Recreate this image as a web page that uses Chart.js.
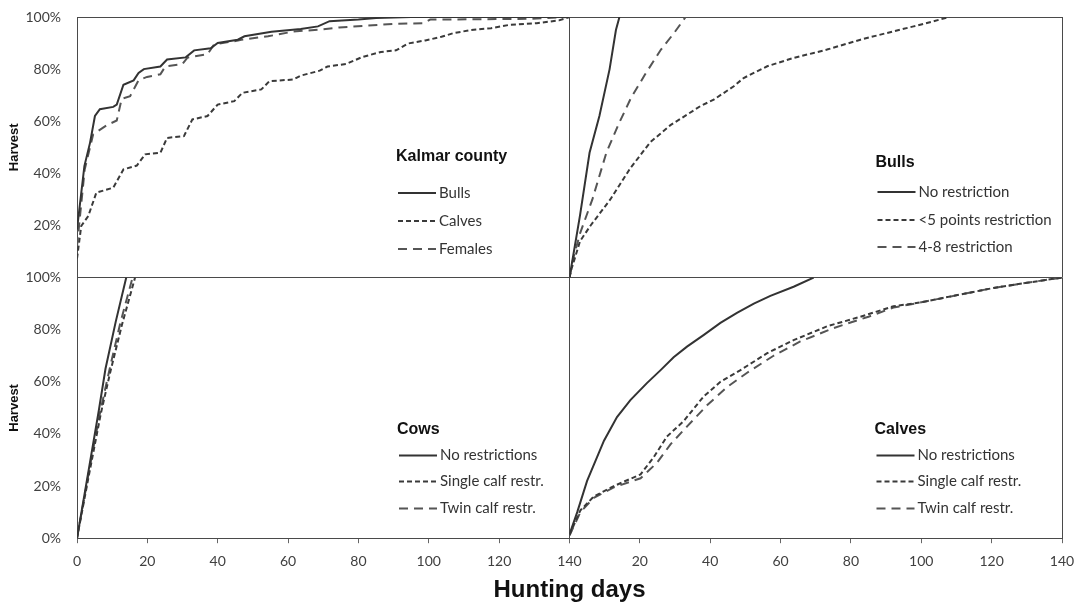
<!DOCTYPE html>
<html>
<head>
<meta charset="utf-8">
<script src="https://cdn.jsdelivr.net/npm/chart.js@4.4.1/dist/chart.umd.min.js"></script>
<style>
  body { margin: 0; background: #fff; }
  #wrap { width: 1081px; height: 605px; }
</style>
</head>
<body>
<div id="wrap"><canvas id="myChart" width="1081" height="605"></canvas></div>
<script>
// ticks
const dayTicks = [0, 20, 40, 60, 80, 100, 120, 140]
const harvestTicks = [0, 20, 40, 60, 80, 100]
const panelTitles = ['Kalmar county', 'Bulls', 'Cows', 'Calves']

// Kalmar county (top left)
const kalmarBullsDays = [0, 2.1, 3.7, 5.1, 6.5, 10.3, 11.3, 13.2, 16.1, 17.5, 19, 23.7, 25.6, 30.9, 33.3, 38, 40, 45.7, 47.6, 55.3, 63.6, 68.5, 71.8, 80, 85, 95, 140]
const kalmarBulls = [18.5, 42.8, 51.7, 62, 64.6, 65.5, 66.4, 74, 75.7, 78.5, 80, 81, 83.7, 84.5, 87.2, 88, 90, 91.3, 92.6, 94.3, 95.4, 96.4, 98.4, 99, 99.6, 100, 100]
const kalmarCalvesDays = [0, 1.2, 3.2, 5.5, 10.3, 13.2, 17, 19.4, 23.7, 25.6, 30.4, 32.8, 37.1, 40, 44.7, 47, 52.4, 54.7, 61.5, 63.6, 69, 71.2, 76.6, 81, 86.4, 90.7, 94, 99, 103.6, 107, 112, 117.7, 123, 130.7, 137, 140]
const kalmarCalves = [7.3, 19.8, 23.6, 32.6, 34.5, 41.5, 43, 47.3, 47.9, 53.6, 54.3, 60.7, 62, 66.4, 67.7, 70.9, 72.2, 75.4, 76, 77.5, 79.4, 81, 82, 84.6, 86.6, 87.2, 89.8, 91, 92.4, 93.8, 95, 95.7, 97, 97.6, 98.7, 100]
const kalmarFemalesDays = [0, 2.2, 4.6, 8.4, 11.3, 12.7, 15.1, 17.5, 19.9, 23.7, 25.1, 29.9, 31.4, 37.1, 39, 44.7, 46.7, 54.3, 61.5, 70, 74.5, 90.7, 98.3, 100.4, 128.6, 140]
const kalmarFemales = [12, 41.6, 55, 58.4, 60.3, 68.6, 69.6, 75.7, 77, 78, 81, 81.9, 84.4, 85.7, 89.5, 90.7, 91.3, 92.6, 94.4, 95.3, 96, 97.4, 97.6, 99, 99.3, 100]

// Bulls (top right)
const bullsNoRestrDays = [0, 3, 5.7, 8.5, 11.4, 13.2, 14.2]
const bullsNoRestr = [0, 24, 47.9, 62, 80, 95, 100]
const bullsLt5Days = [0, 0.5, 3, 6, 11.6, 17.3, 23, 28.7, 37.2, 41, 46.7, 49.5, 56.2, 63.7, 69.4, 73.2, 82.7, 92.1, 97.8, 101.6, 108]
const bullsLt5 = [0, 3, 14, 20, 30, 42, 52, 58.5, 65.8, 68.3, 73.4, 76.6, 81.1, 84.3, 86.2, 87.5, 91.3, 94.5, 96.4, 97.7, 100]
const bulls48Days = [0, 1, 3, 6.5, 10.5, 14, 17.5, 21.5, 26, 29.8, 33]
const bulls48 = [0, 7, 17, 30, 48, 59, 69, 78, 87.5, 94, 100]

// Cows (bottom left)
const cowsNoRestrDays = [0, 3.3, 6.2, 8.1, 11, 14]
const cowsNoRestr = [0, 26, 49, 65, 83, 100]
const cowsSingleDays = [0, 3.5, 6.8, 9.5, 12.8, 16.5]
const cowsSingle = [0, 25, 48, 64, 82, 100]
const cowsTwinDays = [0, 3.4, 6.6, 9.2, 12.3, 15.8]
const cowsTwin = [0, 25.5, 48.5, 64.5, 82.5, 100]

// Calves (bottom right)
const calvesNoRestrDays = [0, 2.2, 5, 9.8, 13.5, 17.3, 22, 25.9, 29.6, 33.4, 38.2, 42.9, 47.6, 52.4, 57.1, 63.7, 69.4]
const calvesNoRestr = [1.5, 10, 22, 37.4, 46.5, 53, 59.5, 64.5, 69.4, 73.5, 78, 82.6, 86.5, 90, 93, 96.5, 100]
const calvesSingleDays = [0, 3.1, 6.9, 12.6, 20.2, 23.9, 27.7, 32.5, 38.2, 42.9, 48.6, 56.2, 63.7, 73.2, 82.7, 92.1, 100, 111, 120.5, 130, 140]
const calvesSingle = [1.3, 10.7, 16, 20, 24.5, 31, 39, 45, 54.5, 60, 64.5, 71, 76, 81.3, 85, 89, 90.5, 93.5, 96, 98, 100]
const calvesTwinDays = [0, 3.1, 6.9, 12.6, 20.2, 24.9, 28.7, 33.5, 39.1, 44.8, 50.5, 58, 65.6, 75, 85, 92.1, 100, 111, 120.5, 130, 140]
const calvesTwin = [1, 10, 15.5, 19.5, 23, 29, 36, 43, 51, 58, 63.5, 70, 75.5, 80.6, 85, 88.5, 90.5, 93.5, 96, 98, 100]

const pts = (days, vals) => days.map((d, i) => ({ x: d, y: vals[i] }))

const solid = { borderColor: '#333', borderWidth: 2, borderDash: [] }
const shortDash = { borderColor: '#3a3a3a', borderWidth: 2, borderDash: [5, 3] }
const longDash = { borderColor: '#555', borderWidth: 2, borderDash: [9, 6] }

const mk = (label, days, vals, style, xId, yId) => ({
  label, data: pts(days, vals), ...style, xAxisID: xId, yAxisID: yId,
  pointRadius: 0, tension: 0, fill: false
})

const datasets = [
  mk('Bulls', kalmarBullsDays, kalmarBulls, solid, 'xL', 'yT'),
  mk('Calves', kalmarCalvesDays, kalmarCalves, shortDash, 'xL', 'yT'),
  mk('Females', kalmarFemalesDays, kalmarFemales, longDash, 'xL', 'yT'),
  mk('No restriction', bullsNoRestrDays, bullsNoRestr, solid, 'xR', 'yT'),
  mk('<5 points restriction', bullsLt5Days, bullsLt5, shortDash, 'xR', 'yT'),
  mk('4-8 restriction', bulls48Days, bulls48, longDash, 'xR', 'yT'),
  mk('No restrictions', cowsNoRestrDays, cowsNoRestr, solid, 'xL', 'yB'),
  mk('Single calf restr.', cowsSingleDays, cowsSingle, shortDash, 'xL', 'yB'),
  mk('Twin calf restr.', cowsTwinDays, cowsTwin, longDash, 'xL', 'yB'),
  mk('No restrictions', calvesNoRestrDays, calvesNoRestr, solid, 'xR', 'yB'),
  mk('Single calf restr.', calvesSingleDays, calvesSingle, shortDash, 'xR', 'yB'),
  mk('Twin calf restr.', calvesTwinDays, calvesTwin, longDash, 'xR', 'yB')
]

/* legend boxes inside each panel */
const panels = [
  { x: 'xL', y: 'yT', dx: 319, dy: 140, rows: [36, 64, 92], sets: [0, 1, 2] },
  { x: 'xR', y: 'yT', dx: 306, dy: 146, rows: [29, 57, 84], sets: [3, 4, 5] },
  { x: 'xL', y: 'yB', dx: 320, dy: 152, rows: [26, 52, 79], sets: [6, 7, 8] },
  { x: 'xR', y: 'yB', dx: 305, dy: 152, rows: [26, 52, 79], sets: [9, 10, 11] }
]

const panelLegends = {
  id: 'panelLegends',
  afterDatasetsDraw(chart) {
    const ctx = chart.ctx
    panels.forEach((p, n) => {
      const x0 = chart.scales[p.x].left + p.dx
      const y0 = chart.scales[p.y].top + p.dy
      ctx.save()
      ctx.textBaseline = 'middle'
      ctx.fillStyle = '#111'
      ctx.font = 'bold 16px "Liberation Sans", Arial, sans-serif'
      ctx.fillText(panelTitles[n], x0, y0)
      p.sets.forEach((i, k) => {
        const ds = chart.data.datasets[i]
        const y = y0 + p.rows[k]
        ctx.strokeStyle = ds.borderColor
        ctx.lineWidth = 2
        ctx.setLineDash(ds.borderDash)
        ctx.beginPath()
        ctx.moveTo(x0 + 2, y)
        ctx.lineTo(x0 + 40, y)
        ctx.stroke()
        ctx.setLineDash([])
        ctx.fillStyle = '#333'
        ctx.font = '15px Lato, sans-serif'
        ctx.fillText(ds.label, x0 + 43, y)
      })
      ctx.restore()
    })
  }
}

const edge = '#4a4a4a'
const tickFont = { family: 'Lato, sans-serif', size: 14 }

const xScale = (hideZero) => ({
  type: 'linear', position: 'bottom', stack: 'days', min: 0, max: 140,
  afterBuildTicks: s => { s.ticks = dayTicks.map(v => ({ value: v })) },
  afterFit: s => { s.height = 38; s.paddingLeft = 0; s.paddingRight = 0 },
  ticks: {
    autoSkip: false, maxRotation: 0, padding: 10, color: '#404040', font: tickFont,
    callback: v => (hideZero && v === 0) ? '' : String(v)
  },
  grid: {
    color: c => (c.tick && (c.tick.value === 0 || c.tick.value === 140)) ? edge : 'rgba(0,0,0,0)',
    tickColor: '#666', tickLength: 5
  },
  border: { color: edge, width: 1 }
})

const yScale = (hideZero) => ({
  type: 'linear', position: 'left', stack: 'harvest', min: 0, max: 100,
  afterBuildTicks: s => { s.ticks = harvestTicks.map(v => ({ value: v })) },
  afterFit: s => { s.width = 77; s.paddingTop = 0; s.paddingBottom = 0 },
  title: {
    display: true, text: 'Harvest', color: '#111',
    font: { family: '"Liberation Sans", Arial, sans-serif', size: 13, weight: 'bold' },
    padding: { top: 7, bottom: 0 }
  },
  ticks: {
    padding: 16, color: '#404040', font: tickFont,
    callback: v => (hideZero && v === 0) ? '' : v + '%'
  },
  grid: {
    drawTicks: false,
    color: c => (c.tick && (c.tick.value === 0 || c.tick.value === 100)) ? edge : 'rgba(0,0,0,0)'
  },
  border: { color: edge, width: 1 }
})

new Chart(document.getElementById('myChart'), {
  type: 'line',
  data: { datasets },
  options: {
    responsive: false,
    animation: false,
    layout: { padding: { top: 17, right: 19, left: 0, bottom: 0 } },
    scales: {
      xL: xScale(false),
      xR: xScale(true),
      yB: yScale(false),
      yT: yScale(true)
    },
    plugins: {
      legend: { display: false },
      tooltip: { enabled: false },
      title: {
        display: true, text: 'Hunting days', position: 'bottom', fullSize: false,
        color: '#111', padding: { top: 0, bottom: 0 },
        font: { family: '"Liberation Sans", Arial, sans-serif', size: 24, weight: 'bold' }
      }
    }
  },
  plugins: [panelLegends]
})
</script>
</body>
</html>
